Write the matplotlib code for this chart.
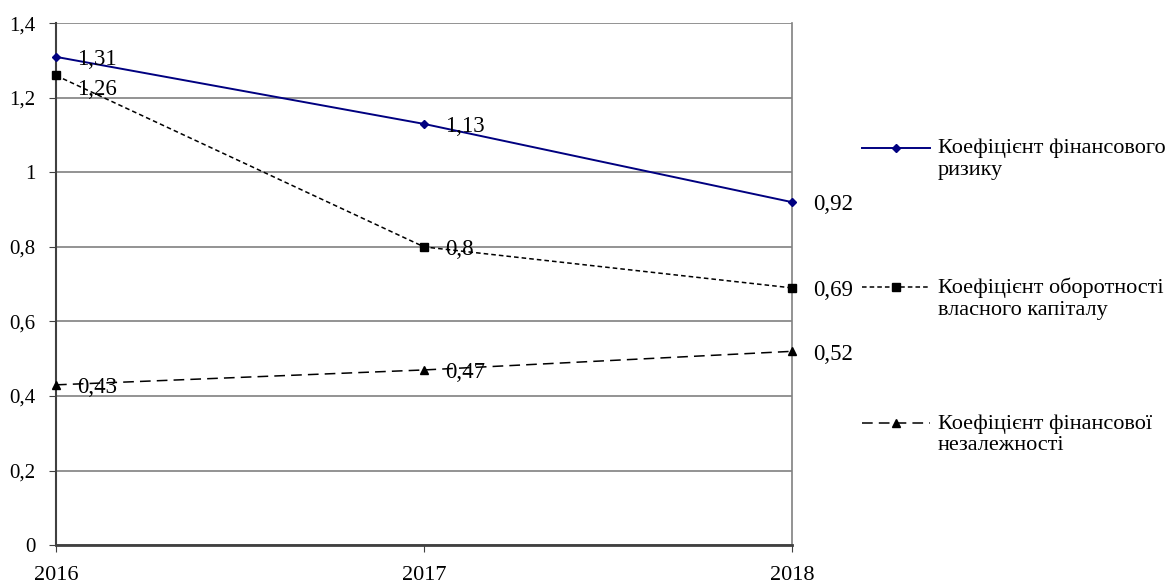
import matplotlib.pyplot as plt
import matplotlib
from matplotlib.lines import Line2D

matplotlib.rcParams.update({'font.family': 'Liberation Serif', 'font.size': 14})

# years and coefficient values
years = ['2016', '2017', '2018']
risk = [1.31, 1.13, 0.92]
turnover = [1.26, 0.8, 0.69]
independence = [0.43, 0.47, 0.52]

labels = ['Коефіцієнт фінансового\nризику',
          'Коефіцієнт оборотності\nвласного капіталу',
          'Коефіцієнт фінансової\nнезалежності']

fig = plt.figure(figsize=(11.67, 5.83), dpi=100)
ax = fig.add_axes([0.048, 0.065, 0.631, 0.895])
x = list(range(len(years)))

styles = [
    dict(color='#000080', lw=1.4, ls='-', marker='D', ms=4.5),
    dict(color='black', lw=1.1, ls=(0, (3, 2)), marker='s', ms=6),
    dict(color='black', lw=1.1, ls=(0, (7, 4)), marker='^', ms=6),
]
series = [risk, turnover, independence]

for s, st in zip(series, styles):
    ax.plot(x, s, clip_on=False, zorder=3, **st)

# value labels next to each point
for s in series:
    for i, v in enumerate(s):
        dy = -10 if v == turnover[0] else -2
        ax.annotate(str(v).replace('.', ','), (i, v), xytext=(15, dy),
                    textcoords='offset points', va='center', ha='left',
                    fontsize=16.5)

ax.set_xlim(0, 2)
ax.set_ylim(0, 1.4)
ax.set_xticks(x)
ax.set_xticklabels(years, fontsize=16)
ax.set_yticks([0, 0.2, 0.4, 0.6, 0.8, 1.0, 1.2, 1.4])
ax.set_yticklabels(['0', '0,2', '0,4', '0,6', '0,8', '1', '1,2', '1,4'], fontsize=15)
ax.yaxis.grid(True, color='#808080', lw=1.2)
ax.set_axisbelow(True)
ax.tick_params(axis='both', length=5, color='#404040')
ax.tick_params(axis='x', pad=10)
ax.tick_params(axis='y', pad=10)
ax.spines['top'].set_visible(False)
ax.spines['right'].set_color('#808080')
ax.spines['right'].set_linewidth(1.2)
ax.spines['left'].set_color('#404040')
ax.spines['left'].set_linewidth(1.5)
ax.spines['bottom'].set_color('#404040')
ax.spines['bottom'].set_linewidth(2)

# legend: handle sits on the first text line
W, H = 1167, 583
legend_y = [148, 287, 423]
for lab, st, yy in zip(labels, styles, legend_y):
    yf = 1 - yy / H
    kw = dict(st)
    kw.pop('marker')
    ms = kw.pop('ms')
    fig.add_artist(Line2D([862 / W, 930 / W], [yf, yf], **kw))
    fig.add_artist(Line2D([896 / W], [yf], marker=st['marker'], ms=ms,
                          color=st['color'], ls='none'))
    fig.text(938 / W, yf + 9 / H, lab, ha='left', va='top', fontsize=16,
             linespacing=1.2)

plt.savefig('out.png')
